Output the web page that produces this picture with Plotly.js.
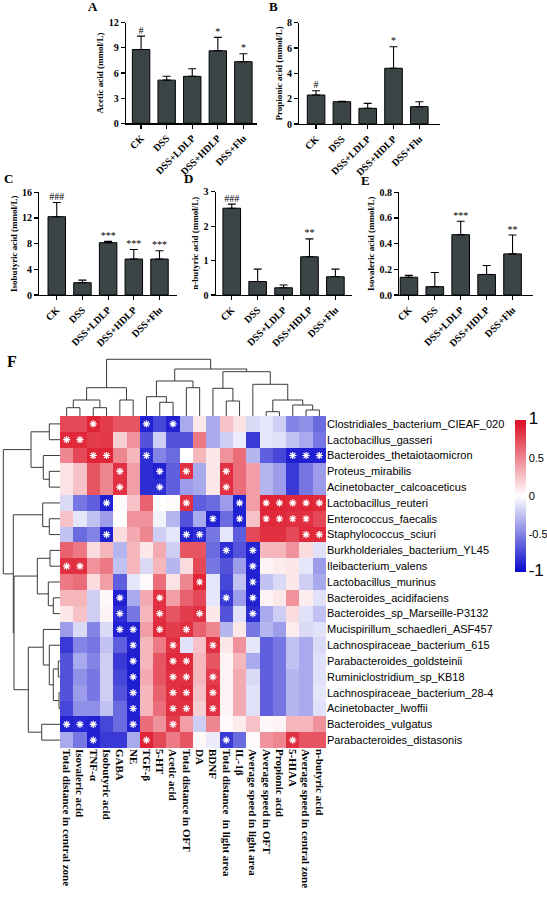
<!DOCTYPE html>
<html><head><meta charset="utf-8">
<script src="https://cdn.plot.ly/plotly-3.0.1.min.js"></script>
<style>body{margin:0;background:#fff}#chart{width:547px;height:898px}</style>
</head><body><div id="chart"></div>
<script>
// ---------- Bar chart data (panels A-E) ----------
const groups = ['CK','DSS','DSS+LDLP','DSS+HDLP','DSS+Flu'];
const acetic = [8.8, 5.15, 5.6, 8.65, 7.35];
const aceticErr = [1.6, 0.47, 0.9, 1.6, 0.95];
const aceticSig = ['#','','','*','*'];
const propionic = [2.29, 1.76, 1.24, 4.4, 1.37];
const propionicErr = [0.34, 0.03, 0.39, 1.7, 0.39];
const propionicSig = ['#','','','*',''];
const isobutyric = [12.2, 1.92, 8.15, 5.6, 5.6];
const isobutyricErr = [2.2, 0.4, 0.2, 1.5, 1.3];
const isobutyricSig = ['###','','***','***','***'];
const nbutyric = [2.52, 0.39, 0.21, 1.11, 0.53];
const nbutyricErr = [0.12, 0.36, 0.08, 0.52, 0.22];
const nbutyricSig = ['###','','','**',''];
const isovaleric = [0.138, 0.065, 0.47, 0.16, 0.32];
const isovalericErr = [0.015, 0.11, 0.105, 0.07, 0.147];
const isovalericSig = ['','','***','','**'];

// ---------- Heatmap data (panel F) ----------
const measures = ['Total distance in central zone','Isovaleric acid','TNF-α','Isobutyric acid','GABA','NE','TGF-β','5-HT','Acetic acid','Total distance in OFT','DA','BDNF','Total distance  in light area','IL-1β','Average speed in light area','Average speed in OFT','Propionic acid','5-HIAA','Average speed in central zone','n-butyric acid'];
const species = ['Clostridiales_bacterium_CIEAF_020','Lactobacillus_gasseri','Bacteroides_thetaiotaomicron','Proteus_mirabilis','Acinetobacter_calcoaceticus','Lactobacillus_reuteri','Enterococcus_faecalis','Staphylococcus_sciuri','Burkholderiales_bacterium_YL45','Ileibacterium_valens','Lactobacillus_murinus','Bacteroides_acidifaciens','Bacteroides_sp_Marseille-P3132','Mucispirillum_schaedleri_ASF457','Lachnospiraceae_bacterium_615','Parabacteroides_goldsteinii','Ruminiclostridium_sp_KB18','Lachnospiraceae_bacterium_28-4','Acinetobacter_lwoffii','Bacteroides_vulgatus','Parabacteroides_distasonis'];
const corr = [
 [0.75,0.75,0.9,0.8,0.7,0.7,-0.9,-0.75,-0.9,-0.35,0.1,-0.35,0.25,0.12,-0.15,-0.1,-0.2,-0.5,-0.45,-0.6],
 [0.88,0.88,0.8,0.82,0.2,0.45,-0.7,-0.2,-0.7,-0.7,0.55,-0.35,-0.2,-0.08,-0.8,-0.1,-0.12,-0.25,-0.35,-0.55],
 [0.5,0.75,0.9,0.9,0.5,0.3,-0.85,-0.5,-0.6,0,0.3,0.1,0.45,0.6,-0.3,-0.65,-0.75,-0.9,-0.9,-0.9],
 [0.12,0.25,0.7,0.5,0.85,0.4,-0.85,-0.9,-0.65,0.85,-0.35,0.1,0.85,0.6,0.4,-0.3,-0.4,-0.8,-0.55,-0.4],
 [0.12,0.25,0.7,0.5,0.85,0.4,-0.85,-0.85,-0.65,-0.4,-0.35,0.1,0.85,0.6,0.4,-0.3,-0.4,-0.8,-0.55,-0.4],
 [-0.15,-0.55,-0.65,-0.9,0.02,0.25,0.65,0,0.02,0.85,-0.65,-0.6,-0.4,-0.9,0.4,0.9,0.9,0.88,0.9,0.88],
 [0.25,-0.1,-0.25,-0.4,0,0.45,0.45,-0.05,-0.3,-0.7,-0.35,-0.9,-0.6,-0.9,0.25,0.88,0.88,0.85,0.85,0.75],
 [-0.25,-0.6,-0.5,-0.9,0.15,0.35,0.5,-0.2,-0.1,-0.9,-0.85,-0.55,-0.1,-0.65,0.75,0.85,0.85,0.75,0.88,0.88],
 [0.65,0.55,0.15,0.3,-0.3,0.3,0.1,0.35,-0.2,0.7,0.7,-0.6,-0.85,-0.7,-0.9,0.3,0.3,0.45,0.15,-0.12],
 [0.85,0.85,0.45,0.55,-0.25,0.3,-0.15,0.3,-0.3,0.15,0.75,-0.55,-0.7,-0.4,-0.9,0.05,0.08,0.1,-0.1,-0.4],
 [0.55,0.6,0.15,0.4,-0.65,-0.1,0.02,0.6,0.12,0.5,0.9,-0.1,-0.75,-0.25,-0.9,-0.25,-0.15,0.1,-0.2,-0.35],
 [0.3,0.3,-0.2,0.03,-0.9,-0.35,0.35,0.85,0.4,0.65,0.75,-0.1,-0.8,-0.4,-0.9,0.05,0.1,0.45,0.08,-0.12],
 [0.1,0.25,-0.2,0.05,-0.85,-0.55,0.3,0.85,0.7,0.8,0.85,0.1,-0.7,-0.12,-0.85,-0.35,-0.2,0.15,-0.12,-0.25],
 [-0.4,-0.15,-0.5,-0.15,-0.9,-0.9,0.4,0.88,0.8,0.85,0.65,0.5,-0.3,0.1,-0.55,-0.3,-0.4,0.08,-0.15,-0.12],
 [-0.8,-0.5,-0.55,-0.25,-0.65,-0.9,0.3,0.55,0.85,-0.12,0.25,0.85,0.1,0.45,-0.1,-0.65,-0.55,-0.25,-0.35,-0.15],
 [-0.7,-0.35,-0.5,-0.2,-0.8,-0.92,0.3,0.7,0.88,0.88,0.3,0.7,0.05,0.3,-0.35,-0.65,-0.55,-0.25,-0.35,-0.12],
 [-0.7,-0.45,-0.55,-0.2,-0.75,-0.92,0.35,0.7,0.85,0.85,0.3,0.8,0.05,0.35,-0.15,-0.65,-0.55,-0.3,-0.35,-0.12],
 [-0.7,-0.4,-0.55,-0.2,-0.7,-0.9,0.3,0.65,0.85,0.88,0.25,0.85,0.05,0.35,-0.12,-0.65,-0.55,-0.3,-0.35,-0.1],
 [-0.75,-0.45,-0.45,-0.25,-0.6,-0.9,0.3,0.6,0.85,0.85,0.2,0.85,0.05,0.35,-0.12,-0.65,-0.55,-0.3,-0.35,-0.12],
 [-0.9,-0.88,-0.9,-0.75,-0.6,-0.9,0.6,0.45,0.8,0.4,-0.2,0.5,0.02,0.08,0.25,0.03,0.05,0.3,0.3,0.45],
 [-0.35,-0.55,-0.9,-0.8,-0.8,-0.35,0.9,0.75,0.55,0.7,0.03,-0.08,-0.8,-0.6,0.02,0.45,0.5,0.85,0.7,0.7]
];
// significant cells (column indices per row)
const sigCols = [[2,6,8],[0,1],[2,3,6,17,18,19],[4,7,9,12],[4,7,12],[3,9,13,15,16,17,18,19],[11,13,15,16,17,18],[3,9,10,18,19],[12,14],[0,1,14],[10,14],[4,7,12,14],[4,7,10,14],[4,5,7,9],[5,8,11],[5,8,9],[5,8,9,11],[5,8,9,11],[5,8,9,11],[0,1,2,5,8],[2,6,12,17]];
// clustering (hclust-style merge: negative = leaf, positive = earlier merge)
const colMerge = [[-1,-2],[-3,-4],[-5,-6],[1,2],[4,3],[-8,-9],[-7,6],[-10,-11],[7,8],[-13,-14],[-12,10],[-16,-17],[-19,-20],[-18,13],[12,14],[-15,15],[11,16],[9,17],[5,18]];
const colHeight = [8.3,8.3,16,16,28.3,13.7,19.3,28.3,35,15,27.7,4.3,6,11,16,31.7,44.3,47,56.7];
const rowMerge = [[-1,-2],[-4,-5],[-3,2],[1,3],[-7,-8],[-6,5],[-9,-10],[-12,-13],[-11,8],[7,9],[-16,-17],[-18,-19],[11,12],[-15,13],[-14,14],[-20,-21],[15,16],[10,17],[6,18],[4,19]];
const rowHeight = [10.7,10.7,16.7,29,10.7,17.3,10,6.7,11.7,22.7,1.7,1,6.7,10.7,16.7,18.3,31.7,46,46.7,56.7];

// ---------- helpers ----------
const W = 547, H = 898;
const dx = (a,b) => [a/W, b/W];
const dy = (top,bot) => [1-bot/H, 1-top/H];
function dendro(merge, height){
  const pos=[], hgt=[], p=[], h=[];
  const P = k => k<0 ? -k-1 : pos[k-1];
  const Hh = k => k<0 ? 0 : hgt[k-1];
  merge.forEach((m,i)=>{
    const a=m[0], b=m[1], hh=height[i];
    const pa=P(a), pb=P(b);
    p.push(pa,pa,pb,pb,null); h.push(Hh(a),hh,hh,Hh(b),null);
    pos.push((pa+pb)/2); hgt.push(hh);
  });
  return {p, h};
}

const serif = 'Liberation Serif, Times New Roman, serif';
const tickFont = {family: serif, size: 10, color:'#000', weight:'bold'};
const panels = [
  {v:acetic, e:aceticErr, s:aceticSig, t:'Acetic acid (mmol/L)', xd:[126,256.7], yd:[22.7,123.3], xr:[-0.59,4.52], yr:[0,12], dt:3, fmt:''},
  {v:propionic, e:propionicErr, s:propionicSig, t:'Propionic acid (mmol/L)', xd:[299.3,440], yd:[22.7,124], xr:[-0.65,4.8], yr:[0,8], dt:2, fmt:''},
  {v:isobutyric, e:isobutyricErr, s:isobutyricSig, t:'Isobutyric acid (mmol/L)', xd:[39.3,176.7], yd:[192.3,295], xr:[-0.68,4.67], yr:[0,16], dt:4, fmt:''},
  {v:nbutyric, e:nbutyricErr, s:nbutyricSig, t:'n-butyric acid (mmol/L)', xd:[215.7,351.7], yd:[191.7,295], xr:[-0.62,4.63], yr:[0,3], dt:1, fmt:''},
  {v:isovaleric, e:isovalericErr, s:isovalericSig, t:'Isovaleric acid (mmol/L)', xd:[399.3,533], yd:[192.3,295], xr:[-0.37,4.79], yr:[0,0.8], dt:0.2, fmt:'.1f'}
];

const data = [], layout = {
  width: W, height: H, margin:{l:0,r:0,t:0,b:0,autoexpand:false},
  paper_bgcolor:'#fff', plot_bgcolor:'rgba(0,0,0,0)', showlegend:false,
  annotations: []
};

panels.forEach((pn,i)=>{
  const n = i+1, xa = 'x'+n, ya = 'y'+n;
  data.push({type:'bar', x:groups, y:pn.v, xaxis:xa, yaxis:ya, width:0.68,
    marker:{color:'#3b4446', line:{color:'#000', width:1}},
    error_y:{type:'data', array:pn.e, arrayminus:pn.e.map(()=>0), symmetric:false, color:'#000', thickness:1.1, width:4}});
  data.push({type:'scatter', mode:'text', x:groups, y:pn.v.map((v,k)=>v+pn.e[k]), text:pn.s,
    textposition:'top center', textfont:{family:serif, size:10, color:'#000'}, xaxis:xa, yaxis:ya, cliponaxis:false, hoverinfo:'skip'});
  layout['xaxis'+(n===1?'':n)] = {domain:dx(pn.xd[0],pn.xd[1]), anchor:ya, type:'category', range:pn.xr,
    showline:true, linecolor:'#000', linewidth:1.2, ticks:'outside', ticklen:4, tickwidth:1.2, tickcolor:'#000',
    tickangle:-45, tickfont:tickFont, showgrid:false, zeroline:false};
  layout['yaxis'+(n===1?'':n)] = {domain:dy(pn.yd[0],pn.yd[1]), anchor:xa, range:pn.yr, dtick:pn.dt, tick0:0, tickformat:pn.fmt,
    showline:true, linecolor:'#000', linewidth:1.2, ticks:'outside', ticklen:4, tickwidth:1.2, tickcolor:'#000',
    tickfont:tickFont, showgrid:false, zeroline:false,
    title:{text:pn.t, font:{family:serif, size:9, color:'#000', weight:'bold'}, standoff:3}};
});

// heatmap
const colIdx = measures.map((_,i)=>i), rowIdx = species.map((_,i)=>i);
data.push({type:'heatmap', z:corr, x:colIdx, y:rowIdx, xaxis:'x6', yaxis:'y6', zmin:-1, zmax:1,
  colorscale:[[0,'#0808cc'],[0.5,'#ffffff'],[1,'#dc0c20']],
  colorbar:{x:505/W, xanchor:'left', thickness:11, len:172, lenmode:'pixels', y:1-496/H, yanchor:'middle',
    outlinewidth:0, ticks:'', tickvals:[-1,-0.5,0,0.5,1],
    ticktext:['<span style="font-size:17px">-1</span>','-0.5','0','0.5','<span style="font-size:17px">1</span>'],
    tickfont:{family:'Liberation Sans, Arial', size:11, color:'#000'}}});
const sx=[], sy=[];
sigCols.forEach((cols,r)=>cols.forEach(c=>{sx.push(c); sy.push(r);}));
data.push({type:'scatter', mode:'markers', x:sx, y:sy, xaxis:'x6', yaxis:'y6', hoverinfo:'skip',
  marker:{symbol:'asterisk-open', size:6, color:'#ffffff', line:{color:'#ffffff', width:1.2}}});
layout.xaxis6 = {domain:dx(60,326), anchor:'y6', range:[-0.5,19.5], tickvals:colIdx, ticktext:measures, tickangle:90,
  tickfont:{family:serif, size:11, color:'#000', weight:'bold'}, ticks:'', showline:false, showgrid:false, zeroline:false};
layout.yaxis6 = {domain:dy(416,748), anchor:'x6', range:[20.5,-0.5], side:'right', tickvals:rowIdx, ticktext:species,
  tickfont:{family:'Liberation Sans, Arial', size:11, color:'#000'}, ticks:'', showline:false, showgrid:false, zeroline:false};

// dendrograms
const cd = dendro(colMerge, colHeight);
data.push({type:'scatter', mode:'lines', x:cd.p, y:cd.h, xaxis:'x7', yaxis:'y7', line:{color:'#3a3a3a', width:1}, hoverinfo:'skip'});
layout.xaxis7 = {domain:dx(60,326), anchor:'y7', range:[-0.5,19.5], visible:false};
layout.yaxis7 = {domain:dy(356,416), anchor:'x7', range:[0,60], visible:false};
const rd = dendro(rowMerge, rowHeight);
data.push({type:'scatter', mode:'lines', x:rd.h, y:rd.p, xaxis:'x8', yaxis:'y8', line:{color:'#3a3a3a', width:1}, hoverinfo:'skip'});
layout.xaxis8 = {domain:dx(0,60), anchor:'y8', range:[60,0], visible:false};
layout.yaxis8 = {domain:dy(416,748), anchor:'x8', range:[20.5,-0.5], visible:false};

// panel letters
[['A',93,7,13],['B',273,7,13],['C',8,178,13],['D',188,178,13],['E',365,180,13],['F',12,362,16]].forEach(l=>{
  layout.annotations.push({text:l[0], xref:'paper', yref:'paper', x:l[1]/W, y:1-l[2]/H, xanchor:'center', yanchor:'middle',
    showarrow:false, font:{family:serif, size:l[3], color:'#000', weight:'bold'}});
});

Plotly.newPlot('chart', data, layout, {staticPlot:true});
</script></body></html>
